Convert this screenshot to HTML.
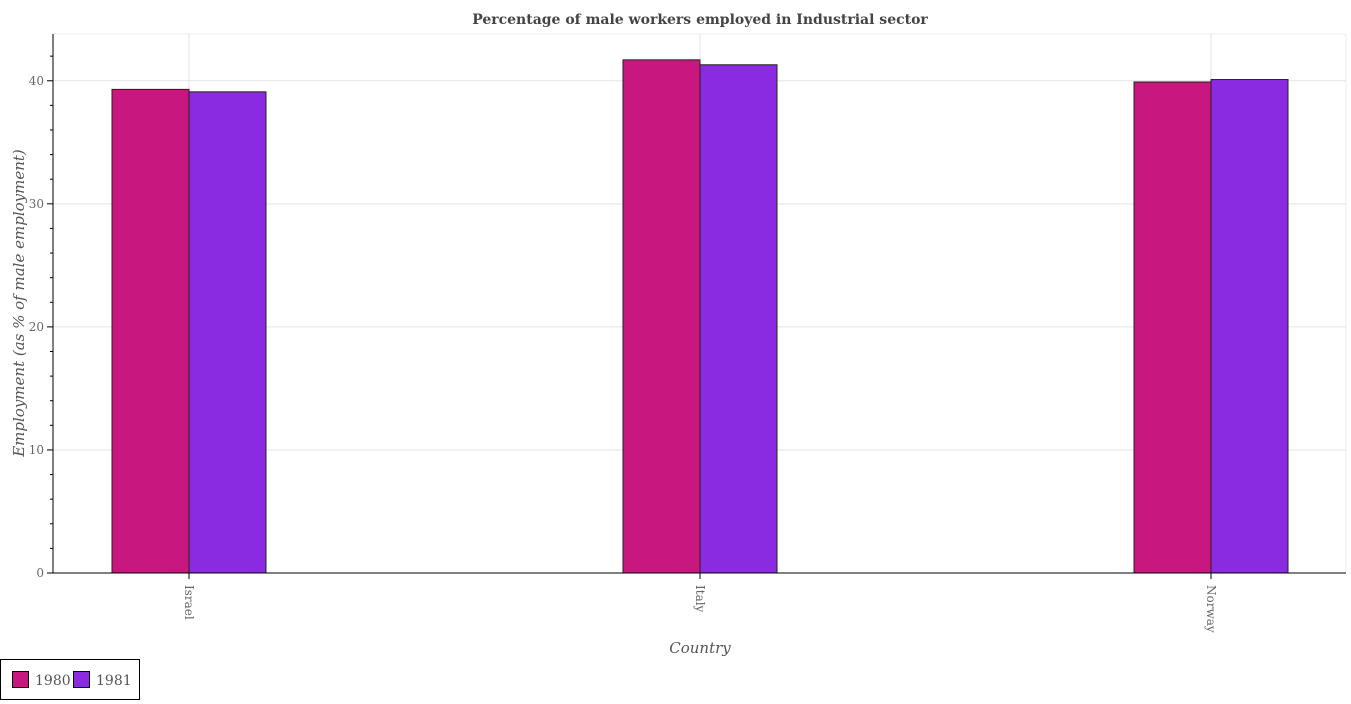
<!DOCTYPE html>
<html><head><meta charset="utf-8"><style>
body{margin:0;background:#fff;font-family:"DejaVu Serif","Liberation Serif",serif}
</style></head><body>
<svg width="1351" height="700" id="svg" xmlns="http://www.w3.org/2000/svg">
<text x="700" y="24" text-anchor="middle" font-size="14" font-weight="bold" fill="#444">Percentage of male workers employed in Industrial sector</text>
<g id="grid"></g><g id="bars"></g><g id="axes"></g>
<text transform="translate(24,303) rotate(-90)" text-anchor="middle" font-size="15" font-style="italic" fill="#555">Employment (as % of male employment)</text>
<text x="700" y="653" text-anchor="middle" font-size="15" font-style="italic" fill="#555">Country</text>
<g>
<rect x="0.5" y="659.5" width="139" height="40" fill="#fff" stroke="#000"/>
<rect x="12.5" y="671.5" width="16" height="16" fill="#c8177f" stroke="#000"/>
<text x="35" y="685" font-size="14" fill="#555">1980</text>
<rect x="73.5" y="671.5" width="16" height="16" fill="#8a2be2" stroke="#000"/>
<text x="96" y="685" font-size="14" fill="#555">1981</text>
</g>
</svg>
<script>
const categories=["Israel","Italy","Norway"];
const values1980=[39.3,41.7,39.9];
const values1981=[39.1,41.3,40.1];
const yTicks=[0,10,20,30,40];
const NS="http://www.w3.org/2000/svg";
const L=53,R=1346,T=34,B=573,yMax=43.8;
const y=v=>B-(v/yMax)*(B-T);
const xc=i=>189+i*511;
const BW=77;
function mk(tag,attrs,parent){const e=document.createElementNS(NS,tag);for(const k in attrs)e.setAttribute(k,attrs[k]);parent.appendChild(e);return e;}
const grid=document.getElementById('grid'),bars=document.getElementById('bars'),axes=document.getElementById('axes');
mk('rect',{x:L,y:T,width:R-L,height:B-T,fill:'none',stroke:'#eee'},grid);
yTicks.forEach(t=>{const g=mk('line',{x1:L,x2:R,y1:y(t),y2:y(t),stroke:'#e3e3e3'},grid);


const tx=mk('text',{x:L-9,y:y(t)+4,'text-anchor':'end','font-size':'12',fill:'#666'},axes);tx.textContent=t;


mk('line',{x1:L-6,x2:L,y1:y(t),y2:y(t),stroke:'#000'},axes);});
for(let v=2;v<yMax;v+=2){if(v%10)mk('line',{x1:L-3,x2:L,y1:y(v),y2:y(v),stroke:'#000'},axes);}
categories.forEach((c,i)=>{
mk('line',{x1:xc(i),x2:xc(i),y1:T,y2:B,stroke:'#e3e3e3'},grid);
const b1=mk('rect',{x:xc(i)-BW,y:y(values1980[i]),width:BW,height:B-y(values1980[i]),fill:'#c8177f',stroke:'#222'},bars);


const b2=mk('rect',{x:xc(i),y:y(values1981[i]),width:BW,height:B-y(values1981[i]),fill:'#8a2be2',stroke:'#222'},bars);


mk('line',{x1:xc(i),x2:xc(i),y1:B,y2:B+6,stroke:'#000'},axes);
const t=mk('text',{transform:`translate(${xc(i)-4},${B+12}) rotate(90)`,'font-size':'12',fill:'#666'},axes);t.textContent=c;


});
mk('line',{x1:L,x2:L,y1:T,y2:B,stroke:'#000'},axes);
mk('line',{x1:L,x2:R,y1:B,y2:B,stroke:'#000'},axes);
</script>
</body></html>
